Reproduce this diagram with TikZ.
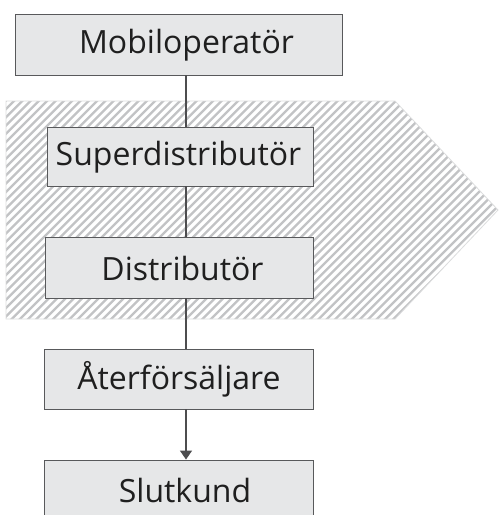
\documentclass[tikz,border=0pt]{standalone}
\usepackage{fontspec}
\setmainfont{Open Sans}
\usetikzlibrary{arrows.meta}
\definecolor{boxfill}{HTML}{E6E7E8}
\definecolor{boxline}{HTML}{58595B}
\definecolor{hatchline}{HTML}{C2C3C5}
\definecolor{hatchedge}{HTML}{DCDDDE}
\definecolor{linkline}{HTML}{4D4D4F}

\tikzset{
  stage/.style={draw=boxline, fill=boxfill, line width=0.9pt, inner sep=0pt},
  stagetext/.style={inner sep=0pt, text=black!88, font=\fontsize{32}{34}\selectfont},
  link/.style={draw=linkline, line width=1.4pt},
  flow/.style={link, -{Triangle[length=9pt, width=12pt]}},
}

\begin{document}
\begin{tikzpicture}[x=1pt, y=-1pt]
\useasboundingbox (0,0) rectangle (499,515);

% hatched chevron behind the distribution stages
\begin{scope}
  \clip (6,101) -- (395,101) -- (498,210) -- (395,319) -- (6,319) -- cycle;
  \fill[white] (0,95) rectangle (499,325);
  \foreach \a in {-240,-231.7,...,520}
    \draw[hatchline, line width=2.3pt] (\a,330) -- (\a+240,90);
\end{scope}
\draw[hatchedge, line width=0.8pt] (6,101) -- (395,101) -- (498,210) -- (395,319) -- (6,319) -- cycle;

% vertical spine of the chain
\coordinate (spine) at (186,0);

% boxes
\node[stage, minimum width=327pt, minimum height=61pt] (mob) at (178.5,44.5) {};
\node[stage, minimum width=266pt, minimum height=59pt] (sup) at (180,156.5) {};
\node[stage, minimum width=268pt, minimum height=61pt] (dis) at (179,267.5) {};
\node[stage, minimum width=269pt, minimum height=60pt] (ate) at (178.5,379) {};
\node[stage, minimum width=269pt, minimum height=60pt] (slu) at (178.5,490) {};

% labels
\node[stagetext] (mobt) at (186.5,45) {Mobiloperatör};
\node[stagetext] (supt) at (178.5,157) {Superdistributör};
\node[stagetext] (dist) at (182.5,268) {Distributör};
\node[stagetext] (atet) at (179,379) {Återförsäljare};
\node[stagetext] (slut) at (185,490) {Slutkund};

% connectors
\draw[link] (mob.south -| spine) -- (sup.north -| spine);
\draw[link] (sup.south -| spine) -- (dis.north -| spine);
\draw[link] (dis.south -| spine) -- (ate.north -| spine);
\draw[flow] (ate.south -| spine) -- (slu.north -| spine);
\end{tikzpicture}
\end{document}
